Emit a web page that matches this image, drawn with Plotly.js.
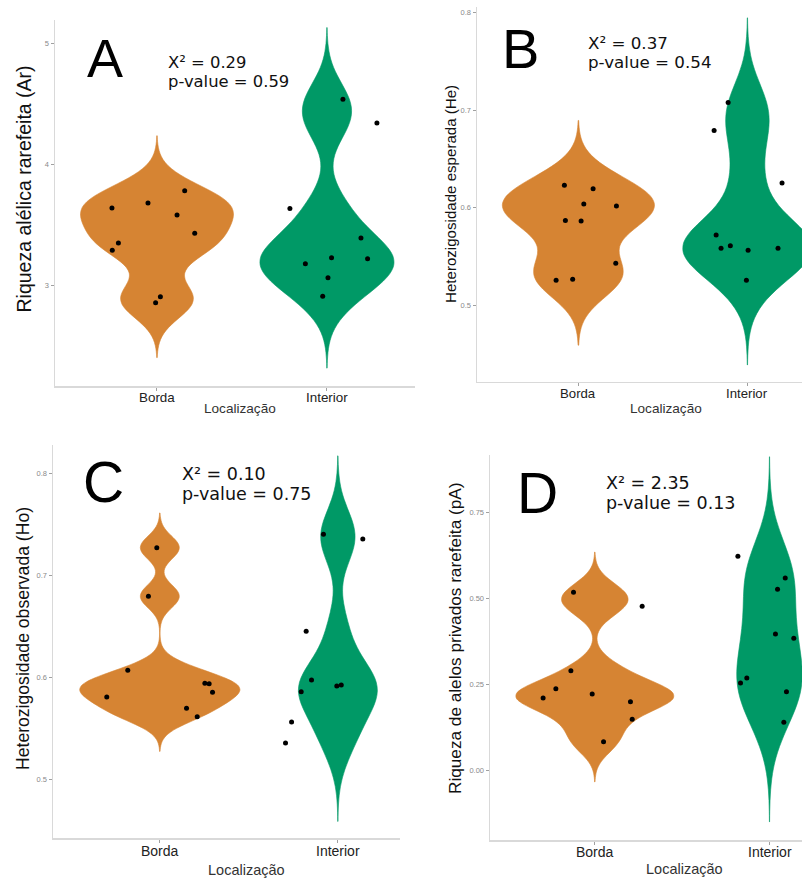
<!DOCTYPE html>
<html>
<head>
<meta charset="utf-8">
<script src="https://cdn.plot.ly/plotly-3.0.1.min.js"></script>
<style>html,body{margin:0;padding:0;background:#fff;}#chart{width:802px;height:879px;}</style>
</head>
<body>
<div id="chart"></div>
<script>
// ---------- data ----------
const categories = ['Borda', 'Interior'];
const xTitle = 'Localização';
const panelLetters = ['A', 'B', 'C', 'D'];
const yTitles = [
  'Riqueza alélica rarefeita (Ar)',
  'Heterozigosidade esperada (He)',
  'Heterozigosidade observada (Ho)',
  'Riqueza de alelos privados rarefeita (pA)'
];
const chi2 = ['0.29', '0.37', '0.10', '2.35'];
const pValues = ['0.59', '0.54', '0.75', '0.13'];

// Panel A: allelic richness
const A_borda = [3.639, 3.680, 3.782, 3.581, 3.430, 3.350, 3.289, 2.906, 2.857];
const A_borda_jit = [-0.265, -0.053, 0.163, 0.118, 0.222, -0.227, -0.263, 0.020, -0.008];
const A_int = [4.537, 4.342, 3.636, 3.391, 3.229, 3.220, 3.179, 3.063, 2.909];
const A_int_jit = [0.094, 0.294, -0.218, 0.200, 0.027, 0.239, -0.127, 0.006, -0.025];

// Panel B: expected heterozygosity
const B_borda = [0.6229, 0.6195, 0.6038, 0.6017, 0.5870, 0.5863, 0.5430, 0.5256, 0.5266];
const B_borda_jit = [-0.083, 0.087, 0.032, 0.225, -0.077, 0.016, 0.221, -0.132, -0.034];
const B_int = [0.7078, 0.6792, 0.6253, 0.5720, 0.5584, 0.5611, 0.5563, 0.5584, 0.5256];
const B_int_jit = [-0.114, -0.197, 0.205, -0.185, -0.156, -0.101, 0.004, 0.181, -0.006];

// Panel C: observed heterozygosity
const C_borda = [0.7271, 0.6794, 0.6069, 0.5807, 0.5941, 0.5938, 0.5853, 0.5696, 0.5614];
const C_borda_jit = [-0.017, -0.064, -0.180, -0.298, 0.253, 0.277, 0.296, 0.150, 0.210];
const C_int = [0.7402, 0.7356, 0.6451, 0.5974, 0.5859, 0.5915, 0.5925, 0.5562, 0.5356];
const C_int_jit = [-0.081, 0.140, -0.178, -0.148, -0.206, -0.006, 0.019, -0.260, -0.294];

// Panel D: private allelic richness
const D_borda = [0.5178, 0.4770, 0.2895, 0.2371, 0.2099, 0.2215, 0.1992, 0.1477, 0.0826];
const D_borda_jit = [-0.122, 0.271, -0.137, -0.223, -0.296, -0.015, 0.204, 0.214, 0.050];
const D_int = [0.6228, 0.5596, 0.5266, 0.3964, 0.3838, 0.2681, 0.2536, 0.2283, 0.1389];
const D_int_jit = [-0.181, 0.090, 0.046, 0.034, 0.139, -0.130, -0.166, 0.097, 0.082];

// ---------- layout constants ----------
const W = 802, H = 879;
const COL_BORDA = '#D68433';
const COL_INT = '#009966';
const px = x => x / W;
const py = y => 1 - y / H;

const panels = [
  {borda: A_borda, bj: A_borda_jit, inter: A_int, ij: A_int_jit,
   x0: 55, x1: 415, y0: 20, y1: 386, xr: [0.4, 2.518], yr: [2.168, 5.193], dtick: 1, fmt: 'd',
   letter: {x: 105, y: 57.5, s: 54}, stat: {x: 166, y1: 62.5, y2: 82, s: 16.4},
   yt: {x: 23, y: 189.5, s: 19.5}, xt: {x: 240, y: 409, s: 13.6}, tick: {y: 397, s: 13.4}},
  {borda: B_borda, bj: B_borda_jit, inter: B_int, ij: B_int_jit,
   x0: 477, x1: 802, y0: 6.5, y1: 381.7, xr: [0.4, 2.323], yr: [0.4216, 0.8063], dtick: 0.1, fmt: '.1f',
   letter: {x: 520, y: 49, s: 56}, stat: {x: 586, y1: 43.3, y2: 62.5, s: 16.7},
   yt: {x: 450, y: 194, s: 15.1}, xt: {x: 665.5, y: 409, s: 13.6}, tick: {y: 393, s: 13.2}},
  {borda: C_borda, bj: C_borda_jit, inter: C_int, ij: C_int_jit,
   x0: 53, x1: 400, y0: 445, y1: 838.3, xr: [0.4, 2.349], yr: [0.4422, 0.8277], dtick: 0.1, fmt: '.1f',
   letter: {x: 103, y: 481.5, s: 57}, stat: {x: 180, y1: 473.7, y2: 494, s: 17.5},
   yt: {x: 22.5, y: 638.5, s: 17.6}, xt: {x: 246.5, y: 870, s: 14.5}, tick: {y: 851, s: 14}},
  {borda: D_borda, bj: D_borda_jit, inter: D_int, ij: D_int_jit,
   x0: 490, x1: 802, y0: 455, y1: 840, xr: [0.4, 2.186], yr: [-0.204, 0.918], dtick: 0.25, fmt: '.2f',
   letter: {x: 537.5, y: 492.5, s: 57}, stat: {x: 604, y1: 483.3, y2: 503.3, s: 17.5},
   yt: {x: 455, y: 639, s: 17.2}, xt: {x: 684.5, y: 869, s: 14.5}, tick: {y: 851.5, s: 14}}
];

// ---------- helpers: R's bw.nrd0 and a gaussian KDE (as ggplot's geom_violin) ----------
function quantile7(sorted, p) {
  const h = (sorted.length - 1) * p;
  const lo = Math.floor(h), hi = Math.ceil(h);
  return sorted[lo] + (h - lo) * (sorted[hi] - sorted[lo]);
}
function nrd0(vals) {
  const n = vals.length;
  const m = vals.reduce((a, b) => a + b, 0) / n;
  const sd = Math.sqrt(vals.reduce((a, b) => a + (b - m) * (b - m), 0) / (n - 1));
  const s = vals.slice().sort((a, b) => a - b);
  const iqr = quantile7(s, 0.75) - quantile7(s, 0.25);
  const lo = Math.min(sd, iqr / 1.34) || sd || 1;
  return 0.9 * lo * Math.pow(n, -0.2);
}
function maxDensity(vals, bw, lo, hi) {
  let best = 0;
  const n = 512;
  for (let k = 0; k <= n; k++) {
    const t = lo + (hi - lo) * k / n;
    let s = 0;
    vals.forEach(v => { const z = (t - v) / bw; s += Math.exp(-0.5 * z * z); });
    s /= (vals.length * bw * Math.sqrt(2 * Math.PI));
    if (s > best) best = s;
  }
  return best;
}

const traces = [];
const layout = {
  width: W, height: H,
  margin: {l: 0, r: 0, t: 0, b: 0},
  paper_bgcolor: '#ffffff', plot_bgcolor: '#ffffff',
  showlegend: false,
  violinmode: 'overlay',
  annotations: [],
  font: {family: 'Liberation Sans, Arial, sans-serif'}
};

panels.forEach((p, i) => {
  const sfx = i === 0 ? '' : String(i + 1);
  const xa = 'x' + sfx, ya = 'y' + sfx;
  const groups = [
    {vals: p.borda, jit: p.bj, pos: 1, col: COL_BORDA},
    {vals: p.inter, jit: p.ij, pos: 2, col: COL_INT}
  ];
  // ggplot scale = "area": widest density of the panel gets width 0.9
  groups.forEach(g => {
    g.bw = nrd0(g.vals);
    g.lo = Math.min(...g.vals) - 3 * g.bw;
    g.hi = Math.max(...g.vals) + 3 * g.bw;
    g.maxD = maxDensity(g.vals, g.bw, g.lo, g.hi);
  });
  const panelMax = Math.max(...groups.map(g => g.maxD));
  groups.forEach((g, j) => {
    traces.push({
      type: 'violin', xaxis: xa, yaxis: ya,
      x0: g.pos, y: g.vals,
      width: 0.9 * g.maxD / panelMax, bandwidth: g.bw,
      spanmode: 'manual', span: [g.lo, g.hi],
      scalegroup: 'g' + i + '_' + j, scalemode: 'width',
      points: false, box: {visible: false}, meanline: {visible: false},
      fillcolor: g.col, line: {color: g.col, width: 0.6},
      opacity: 1, hoverinfo: 'skip'
    });
  });
  groups.forEach(g => {
    traces.push({
      type: 'scatter', mode: 'markers', xaxis: xa, yaxis: ya,
      x: g.jit.map(d => g.pos + d), y: g.vals,
      marker: {color: '#000000', size: 5},
      hoverinfo: 'skip', cliponaxis: true
    });
  });

  layout['xaxis' + sfx] = {
    type: 'linear', domain: [px(p.x0), px(p.x1)], range: p.xr, anchor: ya,
    tickvals: [1, 2], showticklabels: false,
    showgrid: false, zeroline: false,
    showline: true, linecolor: '#d9d9d9', linewidth: 1.5,
    ticks: 'outside', ticklen: 3, tickwidth: 1, tickcolor: '#a0a0a0',
    fixedrange: true
  };
  layout['yaxis' + sfx] = {
    domain: [py(p.y1), py(p.y0)], range: p.yr, anchor: xa,
    dtick: p.dtick, tick0: 0, tickformat: p.fmt,
    showgrid: false, zeroline: false,
    showline: true, linecolor: '#d9d9d9', linewidth: 1.5,
    ticks: 'outside', ticklen: 3, tickwidth: 1, tickcolor: '#a0a0a0',
    tickfont: {size: 7.5, color: '#8a8a8a', family: 'Liberation Sans, Arial, sans-serif'},
    fixedrange: true
  };

  const ann = layout.annotations;
  // category tick labels
  categories.forEach((c, k) => {
    ann.push({xref: xa, yref: 'paper', x: k + 1, y: py(p.tick.y),
      xanchor: 'center', yanchor: 'middle', showarrow: false, text: c,
      font: {size: p.tick.s, color: '#222222', family: 'Liberation Sans, Arial, sans-serif'}});
  });
  // panel letter
  ann.push({xref: 'paper', yref: 'paper', x: px(p.letter.x), y: py(p.letter.y),
    xanchor: 'center', yanchor: 'middle', showarrow: false, text: panelLetters[i],
    font: {size: p.letter.s, color: '#000000', family: 'Liberation Sans, Arial, sans-serif'}});
  // statistics
  ann.push({xref: 'paper', yref: 'paper', x: px(p.stat.x), y: py(p.stat.y1),
    xanchor: 'left', yanchor: 'middle', showarrow: false, text: 'X² = ' + chi2[i],
    font: {size: p.stat.s, color: '#111111', family: 'DejaVu Sans, Verdana, sans-serif'}});
  ann.push({xref: 'paper', yref: 'paper', x: px(p.stat.x), y: py(p.stat.y2),
    xanchor: 'left', yanchor: 'middle', showarrow: false, text: 'p-value = ' + pValues[i],
    font: {size: p.stat.s, color: '#111111', family: 'DejaVu Sans, Verdana, sans-serif'}});
  // y title
  ann.push({xref: 'paper', yref: 'paper', x: px(p.yt.x), y: py(p.yt.y),
    xanchor: 'center', yanchor: 'middle', showarrow: false, textangle: -90, text: yTitles[i],
    font: {size: p.yt.s, color: '#111111', family: 'Liberation Sans, Arial, sans-serif'}});
  // x title
  ann.push({xref: 'paper', yref: 'paper', x: px(p.xt.x), y: py(p.xt.y),
    xanchor: 'center', yanchor: 'middle', showarrow: false, text: xTitle,
    font: {size: p.xt.s, color: '#333333', family: 'Liberation Sans, Arial, sans-serif'}});
});

Plotly.newPlot('chart', traces, layout, {staticPlot: true, displayModeBar: false});
</script>
</body>
</html>
